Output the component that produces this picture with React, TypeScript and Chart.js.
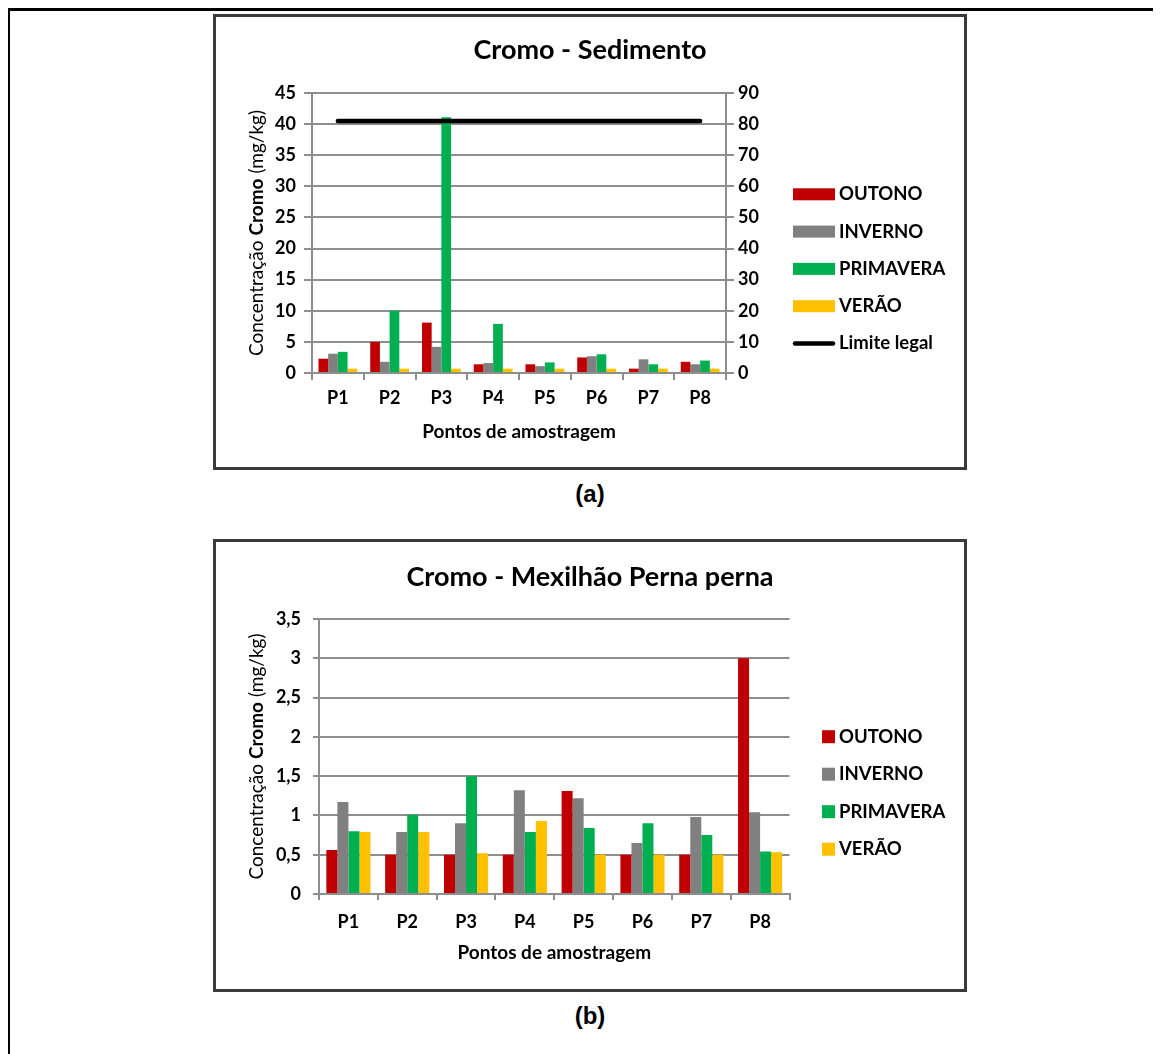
import { useEffect, useRef } from 'react';
import { Chart, registerables } from 'chart.js';

Chart.register(...registerables);

const FONT = 'Lato, "Open Sans", sans-serif';
const GRID = '#8e8e8e';

// Sampling points and seasons
const PONTOS = ['P1', 'P2', 'P3', 'P4', 'P5', 'P6', 'P7', 'P8'];
const ESTACOES = ['OUTONO', 'INVERNO', 'PRIMAVERA', 'VERÃO'];
const CORES = ['#c00000', '#808080', '#00b050', '#ffc000'];

// Chromium in sediment (mg/kg)
const SED_OUTONO = [2.3, 5.0, 8.1, 1.4, 1.4, 2.5, 0.7, 1.8];
const SED_INVERNO = [3.1, 1.8, 4.2, 1.6, 1.1, 2.7, 2.2, 1.4];
const SED_PRIMAVERA = [3.4, 10.0, 41.1, 7.9, 1.7, 3.0, 1.4, 2.0];
const SED_VERAO = [0.7, 0.7, 0.7, 0.7, 0.7, 0.7, 0.7, 0.7];
// Legal limit, read on the secondary axis
const LIMITE_LEGAL = [81, 81, 81, 81, 81, 81, 81, 81];
const LIMITE_LABEL = 'Limite legal';

// Chromium in Perna perna mussels (mg/kg)
const MEX_OUTONO = [0.56, 0.5, 0.5, 0.5, 1.31, 0.5, 0.5, 3.0];
const MEX_INVERNO = [1.17, 0.79, 0.9, 1.32, 1.22, 0.65, 0.98, 1.04];
const MEX_PRIMAVERA = [0.8, 1.01, 1.5, 0.79, 0.84, 0.9, 0.75, 0.54];
const MEX_VERAO = [0.79, 0.79, 0.52, 0.93, 0.5, 0.5, 0.5, 0.53];

// Axis ranges
const SED_Y_MAX = 45;
const SED_Y_STEP = 5;
const SED_Y1_MAX = 90;
const SED_Y1_STEP = 10;
const MEX_Y_MAX = 3.5;
const MEX_Y_STEP = 0.5;

const X_TITLE = 'Pontos de amostragem';
const Y_TITLE_PRE = 'Concentração ';
const Y_TITLE_BOLD = 'Cromo';
const Y_TITLE_POST = ' (mg/kg)';

const tickFont = { family: FONT, size: 18, weight: 'bold' as const };

// Draws chart title, mixed-weight vertical axis title and the side legend
const decorPlugin = {
  id: 'decor',
  afterDraw(chart: any, _args: any, opts: any) {
    const { ctx, chartArea } = chart;
    ctx.save();
    ctx.fillStyle = '#000';
    ctx.font = `bold 27px ${FONT}`;
    ctx.textAlign = 'center';
    ctx.textBaseline = 'middle';
    ctx.fillText(opts.title, chart.width / 2, opts.titleY);

    // vertical axis title: "Concentração **Cromo** (mg/kg)"
    const parts: [string, string][] = [
      [Y_TITLE_PRE, 'normal'],
      [Y_TITLE_BOLD, 'bold'],
      [Y_TITLE_POST, 'normal'],
    ];
    const widths = parts.map(([t, w]) => {
      ctx.font = `${w} 19px ${FONT}`;
      return ctx.measureText(t).width;
    });
    const total = widths.reduce((a, b) => a + b, 0);
    ctx.save();
    ctx.translate(opts.yTitleX, (chartArea.top + chartArea.bottom) / 2);
    ctx.rotate(-Math.PI / 2);
    ctx.textAlign = 'left';
    let x = -total / 2;
    parts.forEach(([t, w], i) => {
      ctx.font = `${w} 19px ${FONT}`;
      ctx.fillText(t, x, 0);
      x += widths[i];
    });
    ctx.restore();

    // legend
    ctx.textAlign = 'left';
    ctx.textBaseline = 'middle';
    chart.data.datasets.forEach((ds: any, i: number) => {
      const y = opts.legendTop + i * opts.legendStep;
      if (ds.type === 'line') {
        ctx.strokeStyle = ds.borderColor;
        ctx.lineWidth = 4.5;
        ctx.lineCap = 'round';
        ctx.beginPath();
        ctx.moveTo(opts.swatchX + 2, y);
        ctx.lineTo(opts.swatchX + opts.swatchW - 2, y);
        ctx.stroke();
      } else {
        ctx.fillStyle = ds.backgroundColor;
        ctx.fillRect(opts.swatchX, y - opts.swatchH / 2, opts.swatchW, opts.swatchH);
      }
      ctx.fillStyle = '#000';
      ctx.font = `bold 18.5px ${FONT}`;
      ctx.fillText(ds.label, opts.textX, y);
    });
    ctx.restore();
  },
};

function barSets(series: number[][]) {
  return series.map((data, i) => ({
    type: 'bar' as const,
    label: ESTACOES[i],
    data,
    backgroundColor: CORES[i],
    categoryPercentage: 0.75,
    barPercentage: 1,
    yAxisID: 'y',
    order: 1,
  }));
}

function xScale(tickLength: number, padding: number, titlePad: number, height: number) {
  return {
    grid: {
      display: true,
      drawOnChartArea: false,
      drawTicks: true,
      tickLength,
      color: GRID,
      lineWidth: 2,
      offset: true,
    },
    border: { display: true, color: GRID, width: 2 },
    ticks: { font: tickFont, color: '#000', padding, maxRotation: 0 },
    title: {
      display: true,
      text: X_TITLE,
      color: '#000',
      font: { family: FONT, size: 19, weight: 'bold' as const },
      padding: { top: 0, bottom: titlePad },
    },
    afterFit: (s: any) => {
      s.height = height;
    },
  };
}

function sedimentoConfig(): any {
  return {
    type: 'bar',
    data: {
      labels: PONTOS,
      datasets: [
        ...barSets([SED_OUTONO, SED_INVERNO, SED_PRIMAVERA, SED_VERAO]),
        {
          type: 'line',
          label: LIMITE_LABEL,
          data: LIMITE_LEGAL,
          yAxisID: 'y1',
          borderColor: '#000',
          backgroundColor: '#000',
          borderWidth: 4.5,
          borderCapStyle: 'round',
          pointRadius: 0,
          fill: false,
          order: 0,
        },
      ],
    },
    options: {
      responsive: false,
      animation: false,
      layout: { padding: { left: 0, right: 0, top: 76, bottom: 0 } },
      plugins: {
        legend: { display: false },
        tooltip: { enabled: false },
        decor: {
          title: 'Cromo - Sedimento',
          titleY: 33,
          yTitleX: 41,
          legendTop: 177.3,
          legendStep: 37.3,
          swatchX: 577,
          swatchW: 42,
          swatchH: 12,
          textX: 623,
        },
      },
      scales: {
        x: xScale(7, 7, 24, 94),
        y: {
          position: 'left',
          min: 0,
          max: SED_Y_MAX,
          ticks: { stepSize: SED_Y_STEP, font: tickFont, color: '#000', padding: 8 },
          grid: { color: GRID, lineWidth: 2, tickLength: 8 },
          border: { display: true, color: GRID, width: 2 },
          afterFit: (s: any) => {
            s.width = 96;
          },
        },
        y1: {
          position: 'right',
          min: 0,
          max: SED_Y1_MAX,
          ticks: { stepSize: SED_Y1_STEP, font: tickFont, color: '#000', padding: 4 },
          grid: { drawOnChartArea: false, color: GRID, lineWidth: 2, tickLength: 8 },
          border: { display: true, color: GRID, width: 2 },
          afterFit: (s: any) => {
            s.width = 238;
          },
        },
      },
    },
    plugins: [decorPlugin],
  };
}

function mexilhaoConfig(): any {
  return {
    type: 'bar',
    data: {
      labels: PONTOS,
      datasets: barSets([MEX_OUTONO, MEX_INVERNO, MEX_PRIMAVERA, MEX_VERAO]),
    },
    options: {
      responsive: false,
      animation: false,
      layout: { padding: { left: 0, right: 174.5, top: 77, bottom: 0 } },
      plugins: {
        legend: { display: false },
        tooltip: { enabled: false },
        decor: {
          title: 'Cromo - Mexilhão Perna perna',
          titleY: 35,
          yTitleX: 41,
          legendTop: 194.7,
          legendStep: 37.5,
          swatchX: 606,
          swatchW: 13,
          swatchH: 13,
          textX: 623,
        },
      },
      scales: {
        x: xScale(6, 11, 25, 95),
        y: {
          position: 'left',
          min: 0,
          max: MEX_Y_MAX,
          ticks: {
            stepSize: MEX_Y_STEP,
            font: tickFont,
            color: '#000',
            padding: 12,
            callback: (v: number) => String(v).replace('.', ','),
          },
          grid: { color: GRID, lineWidth: 2, tickLength: 6 },
          border: { display: true, color: GRID, width: 2 },
          afterFit: (s: any) => {
            s.width = 103;
          },
        },
      },
    },
    plugins: [decorPlugin],
  };
}

function ChartCanvas({ make, width, height }: { make: () => any; width: number; height: number }) {
  const ref = useRef<HTMLCanvasElement>(null);
  useEffect(() => {
    const chart = new Chart(ref.current as HTMLCanvasElement, make());
    return () => chart.destroy();
  }, [make]);
  return <canvas ref={ref} width={width} height={height} style={{ display: 'block', width, height }} />;
}

const boxStyle = (top: number, height: number): React.CSSProperties => ({
  position: 'absolute',
  left: 205,
  top,
  width: 754,
  height,
  border: '3px solid #3a3a3a',
  boxSizing: 'border-box',
  background: '#fff',
});

const captionStyle = (centerY: number): React.CSSProperties => ({
  position: 'absolute',
  left: 482,
  width: 200,
  top: centerY - 14,
  height: 28,
  lineHeight: '28px',
  textAlign: 'center',
  font: 'bold 24px "Liberation Sans", Arial, sans-serif',
  color: '#000',
});

export default function App() {
  return (
    <div style={{ position: 'relative', width: 1153, height: 1046, background: '#fff' }}>
      <style>{'html,body{overflow:hidden;background:#fff}'}</style>
      <div style={{ position: 'absolute', left: 0, top: 0, width: 1153, height: 3, background: '#000' }} />
      <div style={{ position: 'absolute', left: 0, top: 0, width: 2, height: 1046, background: '#000' }} />
      <div style={boxStyle(6, 456)}>
        <ChartCanvas make={sedimentoConfig} width={748} height={450} />
      </div>
      <div style={captionStyle(486)}>(a)</div>
      <div style={boxStyle(531, 453)}>
        <ChartCanvas make={mexilhaoConfig} width={748} height={447} />
      </div>
      <div style={captionStyle(1008)}>(b)</div>
    </div>
  );
}
